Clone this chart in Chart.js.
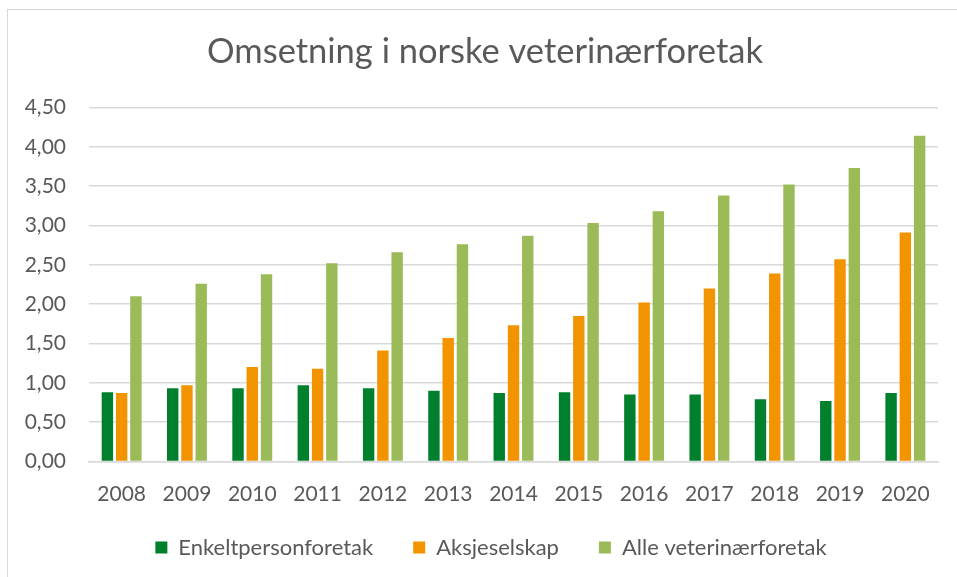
<!DOCTYPE html>
<html>
<head>
<meta charset="utf-8">
<script src="https://cdn.jsdelivr.net/npm/chart.js@4"></script>
<style>
  html, body { margin: 0; padding: 0; background: #fff; }
  #wrap { position: relative; width: 957px; height: 577px; }
  #frame { position: absolute; left: 7px; top: 9px; right: -2px; bottom: -2px; border-left: 1.5px solid #d9d9d9; border-top: 1.5px solid #d9d9d9; }
  canvas { position: absolute; left: 0; top: 0; }
</style>
</head>
<body>
<div id="wrap"><div id="frame"></div><canvas id="c" width="957" height="577"></canvas></div>
<script>
const years = ['2008','2009','2010','2011','2012','2013','2014','2015','2016','2017','2018','2019','2020'];
const enkeltperson = [0.88, 0.93, 0.93, 0.97, 0.93, 0.90, 0.87, 0.88, 0.85, 0.85, 0.79, 0.77, 0.87];
const aksjeselskap = [0.87, 0.97, 1.20, 1.18, 1.41, 1.57, 1.73, 1.85, 2.02, 2.20, 2.39, 2.57, 2.91];
const alle = [2.10, 2.26, 2.38, 2.52, 2.66, 2.76, 2.87, 3.03, 3.18, 3.38, 3.52, 3.73, 4.14];
const seriesNames = ['Enkeltpersonforetak', 'Aksjeselskap', 'Alle veterinærforetak'];
const titleText = 'Omsetning i norske veterinærforetak';

const FONT = 'Lato, "Open Sans", sans-serif';
const TXT = '#595959';

// Legend: wide horizontal gaps but compact vertical block; title/legend nudged right
const LEGEND_TRIM = 24, LEGEND_DX = 15, TITLE_DX = 9;
const tweakPlugin = {
  id: 'tweak',
  beforeLayout(chart) {
    const lg = chart.legend;
    if (lg && !lg._wrapped) {
      lg._wrapped = true;
      const fit = lg.fit.bind(lg);
      lg.fit = function () { fit(); this.height -= LEGEND_TRIM; };
      const draw = lg.draw.bind(lg);
      lg.draw = function () {
        const t = this.top, l = this.left, r = this.right;
        this.top = t - LEGEND_TRIM; this.left = l + LEGEND_DX; this.right = r + LEGEND_DX;
        draw();
        this.top = t; this.left = l; this.right = r;
      };
    }
    const tb = chart.titleBlock;
    if (tb && !tb._wrapped) {
      tb._wrapped = true;
      const draw = tb.draw.bind(tb);
      tb.draw = function () {
        const ctx = this.ctx; ctx.save(); ctx.translate(TITLE_DX, 0);
        draw(); ctx.restore();
      };
    }
  }
};

new Chart(document.getElementById('c'), {
  type: 'bar',
  data: {
    labels: years,
    datasets: [
      { label: seriesNames[0], data: enkeltperson, backgroundColor: '#007F2C' },
      { label: seriesNames[1], data: aksjeselskap, backgroundColor: '#F29400' },
      { label: seriesNames[2], data: alle, backgroundColor: '#9BBB59' }
    ]
  },
  plugins: [tweakPlugin],
  options: {
    responsive: false,
    animation: false,
    devicePixelRatio: 1,
    datasets: { bar: { categoryPercentage: 0.655, barPercentage: 0.8, borderWidth: 0 } },
    layout: { padding: { left: 14, right: 19, top: 24, bottom: 8.5 } },
    plugins: {
      title: {
        display: true, text: titleText, color: TXT,
        font: { family: FONT, size: 34.5, weight: '400' },
        padding: { top: 7, bottom: 35 }
      },
      legend: {
        position: 'bottom',
        labels: {
          color: TXT, font: { family: FONT, size: 22 },
          boxWidth: 12, boxHeight: 12, padding: 40
        }
      },
      tooltip: { enabled: false }
    },
    scales: {
      x: {
        afterFit: (s) => { s.height = 59; },
        grid: { display: false, drawTicks: false },
        border: { display: true, color: '#d9d9d9', width: 1.5 },
        ticks: { color: TXT, font: { family: FONT, size: 21 }, padding: 20 }
      },
      y: {
        min: 0, max: 4.5,
        afterFit: (s) => { s.width = 75; },
        grid: { color: '#d9d9d9', lineWidth: 1.5, drawTicks: false },
        border: { display: false },
        ticks: {
          stepSize: 0.5, color: TXT, font: { family: FONT, size: 21 }, padding: 23,
          callback: (v) => v.toFixed(2).replace('.', ',')
        }
      }
    }
  }
});
</script>
</body>
</html>
